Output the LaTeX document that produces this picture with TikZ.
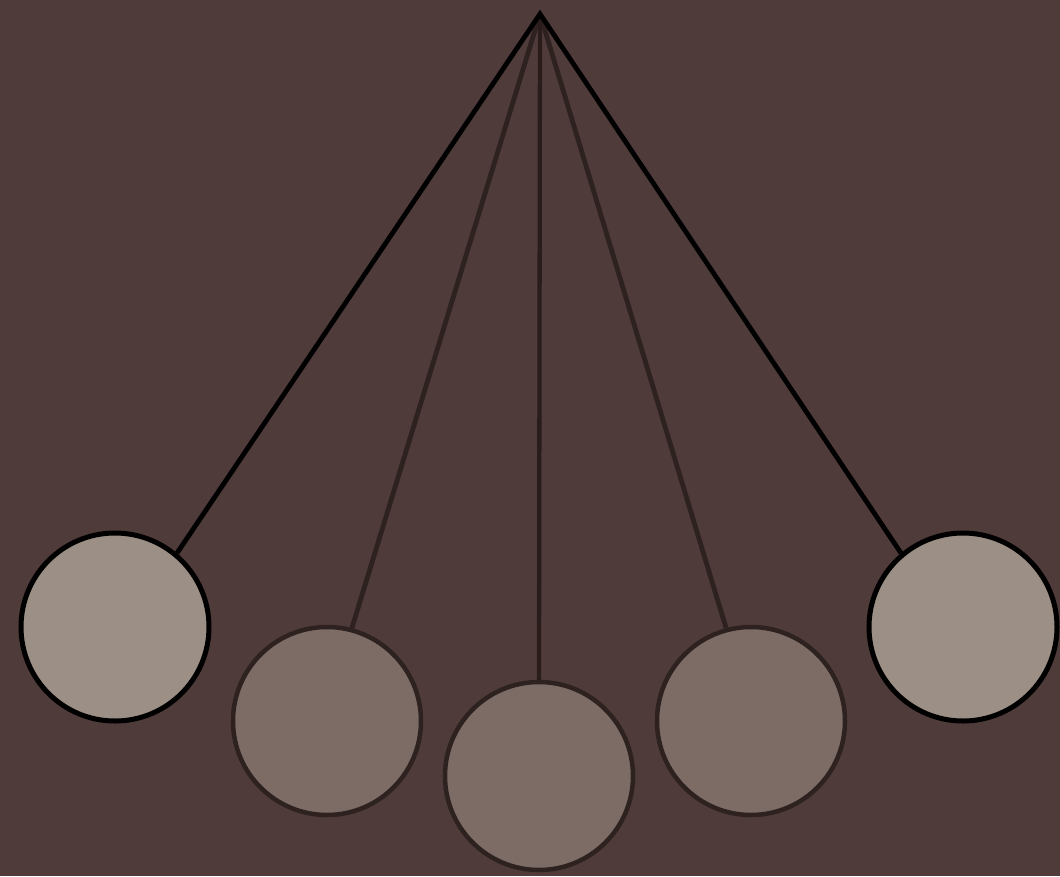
\documentclass[tikz,border=0pt]{standalone}
\definecolor{bgc}{HTML}{4F3B3A}
\definecolor{outerfill}{HTML}{9C8F85}
\definecolor{innerfill}{HTML}{7D6C65}
\definecolor{innerline}{HTML}{2E2220}
\definecolor{midline}{HTML}{2A1C1B}
\begin{document}
\begin{tikzpicture}[x=1pt,y=-1pt,
  outerball/.style={circle,draw=black,line width=5pt,fill=outerfill,minimum size=188pt,inner sep=0pt},
  innerball/.style={circle,draw=innerline,line width=4.5pt,fill=innerfill,minimum size=188pt,inner sep=0pt},
  outerstring/.style={draw=black,line width=4.8pt,line join=miter},
  innerstring/.style={draw=innerline,line width=4.8pt},
  midstring/.style={draw=midline,line width=4.3pt}]
\fill[bgc] (0,0) rectangle (1060,876);
\useasboundingbox (0,0) rectangle (1060,876);
\coordinate (p) at (540,14);
\node[outerball] (b1) at (115,627) {};
\node[innerball] (b2) at (327,721) {};
\node[innerball] (b3) at (539,776) {};
\node[innerball] (b4) at (751,721) {};
\node[outerball] (b5) at (963,627) {};
\draw[innerstring] (p) -- (b2.75);
\draw[innerstring] (p) -- (b4.105);
\draw[midstring] (p) -- (b3.north);
\draw[outerstring] (b1.50) -- (p) -- (b5.130);
\end{tikzpicture}
\end{document}
